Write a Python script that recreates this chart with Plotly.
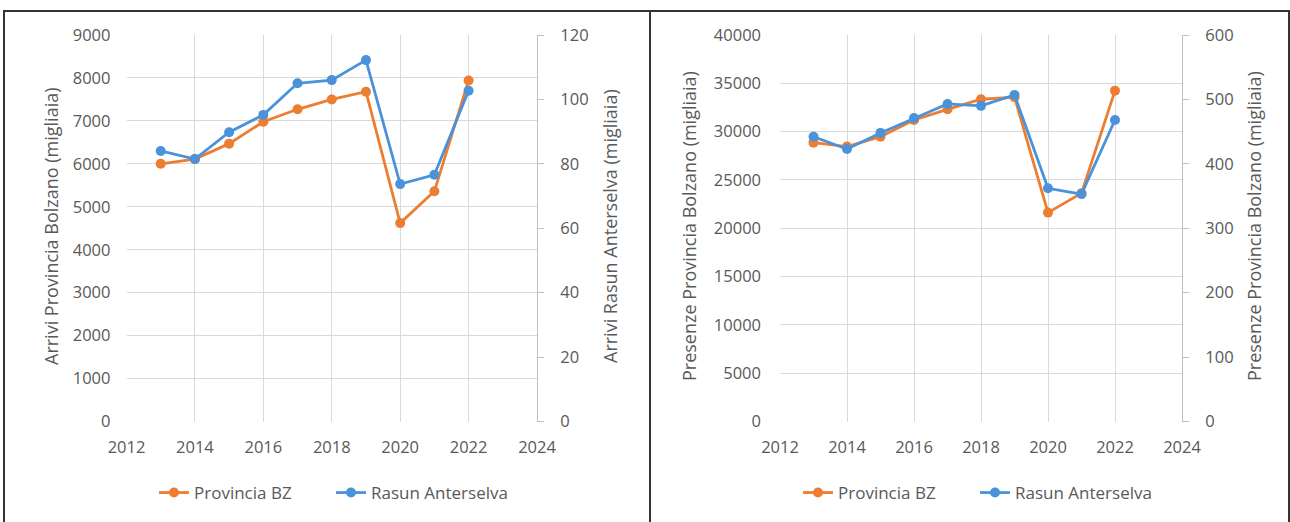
import plotly.graph_objects as go

years = [2013, 2014, 2015, 2016, 2017, 2018, 2019, 2020, 2021, 2022]

# Left chart: Arrivi (migliaia)
arrivi_bz = [6000, 6110, 6470, 6980, 7270, 7500, 7680, 4620, 5360, 7940]
arrivi_rasun = [84.0, 81.5, 89.8, 95.2, 105.0, 106.0, 112.2, 73.7, 76.6, 102.7]

# Right chart: Presenze (migliaia)
presenze_bz = [28860, 28450, 29480, 31210, 32310, 33350, 33560, 21620, 23630, 34240]
presenze_rasun = [442, 423, 448, 471, 493, 490, 507, 362, 353, 468]

x_ticks = [2012, 2014, 2016, 2018, 2020, 2022, 2024]

ORANGE = "#ED7D31"
BLUE = "#4A92DA"
TXT = "#595959"
GRID = "#D9D9D9"
AXL = "#BFBFBF"
FONT = "Open Sans"

W, H = 1290, 522


def px_x(v):
    return v / W


def px_y(v):
    return 1 - v / H


fig = go.Figure()

line_w = 2.8
msize = 10

fig.add_trace(go.Scatter(x=years, y=arrivi_bz, name="Provincia BZ", mode="lines+markers",
                         line=dict(color=ORANGE, width=line_w), marker=dict(size=msize, color=ORANGE),
                         xaxis="x", yaxis="y", legend="legend"))
fig.add_trace(go.Scatter(x=years, y=arrivi_rasun, name="Rasun Anterselva", mode="lines+markers",
                         line=dict(color=BLUE, width=line_w), marker=dict(size=msize, color=BLUE),
                         xaxis="x", yaxis="y2", legend="legend"))
fig.add_trace(go.Scatter(x=years, y=presenze_bz, name="Provincia BZ", mode="lines+markers",
                         line=dict(color=ORANGE, width=line_w), marker=dict(size=msize, color=ORANGE),
                         xaxis="x2", yaxis="y3", legend="legend2"))
fig.add_trace(go.Scatter(x=years, y=presenze_rasun, name="Rasun Anterselva", mode="lines+markers",
                         line=dict(color=BLUE, width=line_w), marker=dict(size=msize, color=BLUE),
                         xaxis="x2", yaxis="y4", legend="legend2"))

ydom = [px_y(421.5), px_y(35)]
tickfont = dict(family=FONT, size=16.5, color=TXT)
titlefont = dict(family=FONT, size=18, color=TXT)
legfont = dict(family=FONT, size=17, color=TXT)

xcommon = dict(range=[2012, 2024], tickvals=x_ticks, ticktext=[str(t) for t in x_ticks],
               showgrid=True, gridcolor=GRID, gridwidth=1, zeroline=False, showline=False,
               tickfont=tickfont, ticks="", ticklabelstandoff=14, automargin=False,
               fixedrange=True)

legcommon = dict(orientation="h", y=px_y(493), xanchor="left", yanchor="middle",
                 font=legfont, bgcolor="rgba(0,0,0,0)", itemwidth=30, tracegroupgap=0,
                 entrywidth=132, entrywidthmode="pixels")

fig.update_layout(
    width=W, height=H,
    margin=dict(l=0, r=0, t=0, b=0, pad=0),
    paper_bgcolor="white", plot_bgcolor="white",
    font=dict(family=FONT, color=TXT),
    xaxis=dict(domain=[px_x(126.5), px_x(537)], anchor="y", **xcommon),
    xaxis2=dict(domain=[px_x(780), px_x(1182)], anchor="y3", **xcommon),
    yaxis=dict(domain=ydom, anchor="x", range=[0, 9000], dtick=1000, showgrid=True, gridcolor=GRID,
               zeroline=False, showline=False, tickfont=tickfont, ticks="", ticklabelstandoff=15,
               automargin=False, tickformat="d", fixedrange=True),
    yaxis2=dict(overlaying="y", side="right", anchor="x", range=[0, 120], dtick=20, showgrid=False,
                zeroline=False, showline=True, linecolor=AXL, linewidth=1, ticks="outside",
                ticklen=6, tickcolor=AXL, tickfont=tickfont, ticklabelstandoff=13,
                automargin=False, tickformat="d", fixedrange=True),
    yaxis3=dict(domain=ydom, anchor="x2", range=[0, 40000], dtick=5000, showgrid=True, gridcolor=GRID,
                zeroline=False, showline=False, tickfont=tickfont, ticks="", ticklabelstandoff=18,
                automargin=False, tickformat="d", fixedrange=True),
    yaxis4=dict(overlaying="y3", side="right", anchor="x2", range=[0, 600], dtick=100, showgrid=False,
                zeroline=False, showline=True, linecolor=AXL, linewidth=1, ticks="outside",
                ticklen=6, tickcolor=AXL, tickfont=tickfont, ticklabelstandoff=13,
                automargin=False, tickformat="d", fixedrange=True),
    legend=dict(x=px_x(154), **legcommon),
    legend2=dict(x=px_x(798), **legcommon),
    showlegend=True,
)

# axis titles as rotated text
titles = [
    ("Arrivi Provincia Bolzano (migliaia)", 51),
    ("Arrivi Rasun Anterselva (migliaia)", 610),
    ("Presenze Provincia Bolzano (migliaia)", 689),
    ("Presenze Provincia Bolzano (migliaia)", 1254),
]
for text, xc in titles:
    fig.add_annotation(text=text, xref="paper", yref="paper", x=px_x(xc), y=px_y(226),
                       xanchor="center", yanchor="middle", textangle=-90, showarrow=False,
                       font=titlefont)

# panel borders
for x0, x1 in [(4, 650), (650, 1289)]:
    fig.add_shape(type="rect", xref="paper", yref="paper",
                  x0=px_x(x0), x1=px_x(x1), y0=px_y(530), y1=px_y(11),
                  line=dict(color="#333333", width=2), fillcolor="rgba(0,0,0,0)", layer="below")

fig.write_html(
    "out.html",
    config={"displayModeBar": False},
    post_script="document.body.style.margin='0';document.body.style.overflow='hidden';",
)
